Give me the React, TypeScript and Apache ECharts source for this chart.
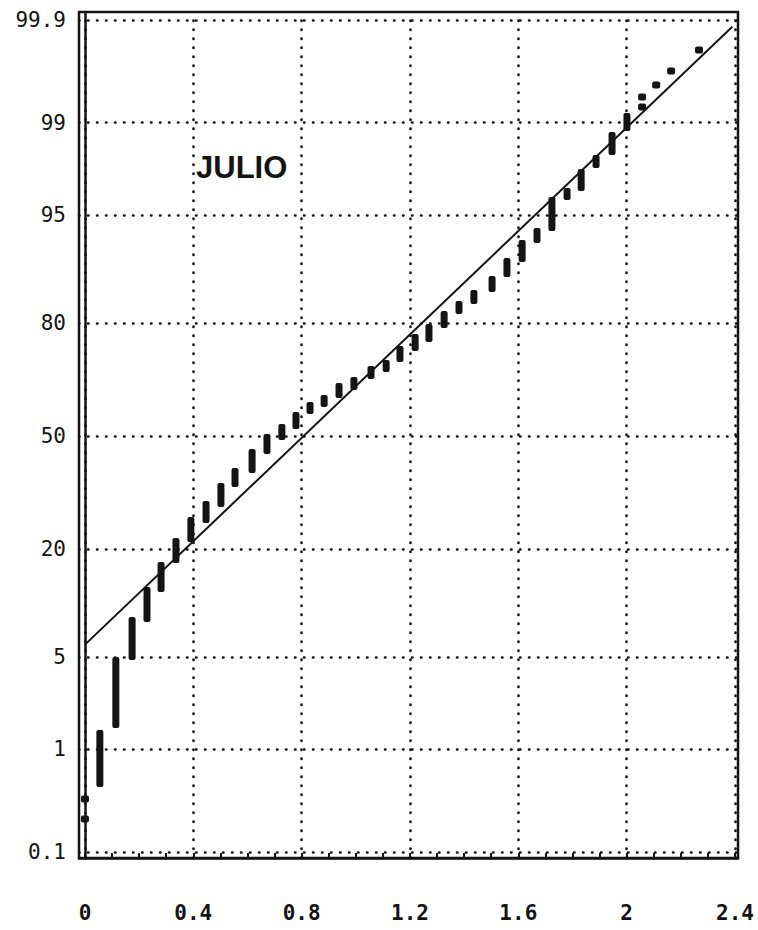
import React, { useEffect, useRef } from "react";
import * as echarts from "echarts";

// Probability-axis ticks (cumulative %)
const probTicks = [0.1, 1, 5, 20, 50, 80, 95, 99, 99.9];
const probLabels = ["0.1", "1", "5", "20", "50", "80", "95", "99", "99.9"];
// Value-axis ticks
const xTicks = [0, 0.4, 0.8, 1.2, 1.6, 2, 2.4];
const xMinorTicks = [0, 0.1, 0.2, 0.3, 0.4, 0.5, 0.6, 0.7, 0.8, 0.9, 1, 1.1, 1.2, 1.3, 1.4, 1.5, 1.6, 1.7, 1.8, 1.9, 2, 2.1, 2.2, 2.3, 2.4];

// Tied observations: value, normal score of highest and lowest plotted rank
const groupX = [0, 0, 0.055, 0.114, 0.174, 0.229, 0.281, 0.336, 0.391, 0.447, 0.502, 0.554, 0.617, 0.672, 0.727, 0.779, 0.831, 0.883, 0.938, 0.993, 1.056, 1.112, 1.163, 1.219, 1.27, 1.326, 1.381, 1.436, 1.503, 1.558, 1.614, 1.669, 1.724, 1.78, 1.832, 1.887, 1.946, 2.001, 2.057, 2.057, 2.109, 2.164, 2.267];
const groupZHigh = [-2.697, -2.845, -2.184, -1.642, -1.345, -1.122, -0.936, -0.758, -0.602, -0.483, -0.349, -0.238, -0.097, 0.015, 0.089, 0.178, 0.253, 0.305, 0.394, 0.438, 0.52, 0.565, 0.669, 0.758, 0.832, 0.929, 1.003, 1.085, 1.189, 1.322, 1.456, 1.545, 1.776, 1.843, 1.984, 2.088, 2.259, 2.4, 2.519, 2.444, 2.608, 2.712, 2.868];
const groupZLow = [-2.697, -2.845, -2.608, -2.169, -1.664, -1.382, -1.159, -0.944, -0.788, -0.646, -0.527, -0.379, -0.275, -0.134, -0.03, 0.052, 0.163, 0.215, 0.282, 0.342, 0.423, 0.475, 0.55, 0.632, 0.698, 0.802, 0.906, 0.981, 1.07, 1.181, 1.293, 1.434, 1.523, 1.753, 1.82, 1.991, 2.088, 2.266, 2.519, 2.444, 2.608, 2.712, 2.868];

// Fitted normal line (value, normal score)
const fitX = [0, 2.39];
const fitZ = [-1.55, 3.04];

function probit(p: number): number {
  const a = [-3.969683028665376e1, 2.209460984245205e2, -2.759285104469687e2, 1.38357751867269e2, -3.066479806614716e1, 2.506628277459239];
  const b = [-5.447609879822406e1, 1.615858368580409e2, -1.556989798598866e2, 6.680131188771972e1, -1.328068155288572e1];
  const c = [-7.784894002430293e-3, -3.223964580411365e-1, -2.400758277161838, -2.549732539343734, 4.374664141464968, 2.938163982698783];
  const d = [7.784695709041462e-3, 3.224671290700398e-1, 2.445134137142996, 3.754408661907416];
  const pl = 0.02425;
  if (p < pl) {
    const q = Math.sqrt(-2 * Math.log(p));
    return (((((c[0] * q + c[1]) * q + c[2]) * q + c[3]) * q + c[4]) * q + c[5]) / ((((d[0] * q + d[1]) * q + d[2]) * q + d[3]) * q + 1);
  }
  if (p <= 1 - pl) {
    const q = p - 0.5;
    const r = q * q;
    return ((((((a[0] * r + a[1]) * r + a[2]) * r + a[3]) * r + a[4]) * r + a[5]) * q) / (((((b[0] * r + b[1]) * r + b[2]) * r + b[3]) * r + b[4]) * r + 1);
  }
  const q = Math.sqrt(-2 * Math.log(1 - p));
  return -(((((c[0] * q + c[1]) * q + c[2]) * q + c[3]) * q + c[4]) * q + c[5]) / ((((d[0] * q + d[1]) * q + d[2]) * q + d[3]) * q + 1);
}

const yTickZ = probTicks.map((p) => probit(p / 100));

export default function App() {
  const ref = useRef<HTMLDivElement>(null);
  useEffect(() => {
    if (!ref.current) return;
    const chart = echarts.init(ref.current, undefined, { renderer: "svg" });
    const ink = "#141414";
    const gridStyle = { type: [0.5, 8.5] as any, color: ink, width: 2.6, cap: "round" as any };
    const bars = groupX.map((x, i) => [x, groupZHigh[i], groupZLow[i]]);
    chart.setOption({
      animation: false,
      backgroundColor: "#ffffff",
      grid: { left: 79, right: 20, top: 12, bottom: 72, show: true, borderColor: ink, borderWidth: 2.5, containLabel: false },
      xAxis: {
        type: "value",
        min: -0.022,
        max: 2.411,
        splitLine: { show: false },
        axisLine: { show: true, onZero: false, lineStyle: { color: ink, width: 2.5 } },
        axisTick: { show: true, inside: true, length: 5, customValues: xMinorTicks, lineStyle: { color: ink, width: 2 } },
        axisLabel: {
          customValues: xTicks,
          formatter: (v: number) => String(v),
          margin: 44,
          color: ink,
          fontFamily: "DejaVu Sans Mono",
          fontWeight: "bold",
          fontSize: 21,
        },
      },
      yAxis: {
        type: "value",
        min: -3.135,
        max: 3.15,
        splitLine: { show: false },
        axisLine: { show: true, lineStyle: { color: ink, width: 2.5 } },
        axisTick: { show: false },
        axisLabel: {
          customValues: yTickZ,
          formatter: (v: number) => {
            let best = 0;
            for (let i = 0; i < yTickZ.length; i++) if (Math.abs(yTickZ[i] - v) < Math.abs(yTickZ[best] - v)) best = i;
            return probLabels[best];
          },
          margin: 13,
          color: ink,
          fontFamily: "DejaVu Sans Mono",
          fontSize: 21,
        },
      },
      graphic: [
        {
          type: "text",
          left: 196,
          top: 152,
          style: { text: "JULIO", fill: ink, font: "bold 31px 'Liberation Sans', Arial, sans-serif" },
        },
      ],
      series: [
        {
          type: "line",
          z: 2,
          data: fitX.map((x, i) => [x, fitZ[i]]),
          showSymbol: false,
          symbol: "none",
          lineStyle: { color: ink, width: 2 },
          markLine: {
            silent: true,
            symbol: ["none", "none"],
            label: { show: false },
            lineStyle: gridStyle,
            data: [...xTicks.map((v) => ({ xAxis: v })), ...yTickZ.map((z) => ({ yAxis: z }))],
          },
        },
        {
          type: "custom",
          z: 3,
          data: bars,
          encode: { x: 0, y: [1, 2] },
          renderItem: (params: any, api: any) => {
            const top = api.coord([api.value(0), api.value(1)]);
            const bot = api.coord([api.value(0), api.value(2)]);
            let y = top[1];
            let h = bot[1] - top[1];
            let w = 7;
            if (h < 6) {
              const mid = (top[1] + bot[1]) / 2;
              y = mid - 3.5;
              h = 7;
              w = 8;
            }
            return {
              type: "rect",
              shape: { x: top[0] - w / 2, y, width: w, height: h, r: 2 },
              style: { fill: ink },
            };
          },
        },
      ],
    });
    return () => chart.dispose();
  }, []);
  return <div ref={ref} style={{ position: "absolute", left: 0, top: 0, width: 758, height: 930 }} />;
}
